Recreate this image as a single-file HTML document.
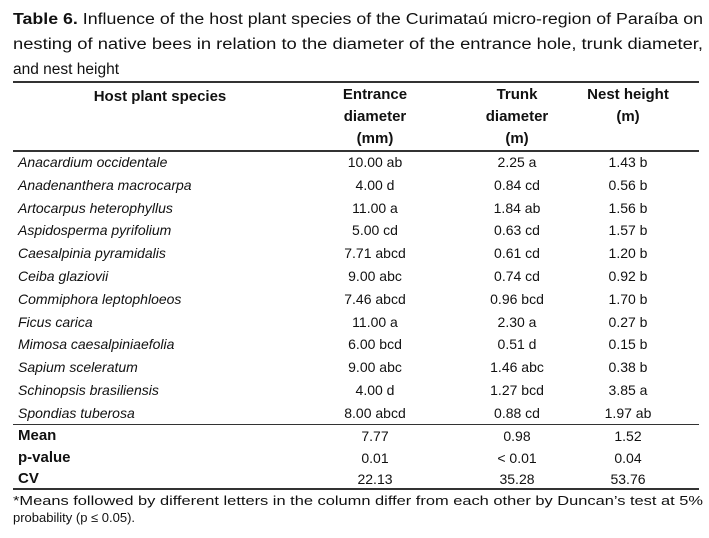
<!DOCTYPE html>
<html><head><meta charset="utf-8"><style>
body{margin:0;width:709px;height:538px;background:#fff;font-family:"Liberation Sans",sans-serif;color:#111;position:relative;overflow:hidden}
.t{position:absolute;white-space:nowrap;font-size:14px;line-height:16px}
.c{transform:translateX(-50%)}
.b{font-weight:bold}
.i{font-style:italic}
.rule{position:absolute;left:13px;width:686px;background:#333}
svg{position:absolute;left:0;top:0}
</style></head><body>
<svg width="709" height="538" style="font-family:'Liberation Sans',sans-serif;fill:#111">
<text x="13" y="24" font-size="15.5" textLength="690" lengthAdjust="spacingAndGlyphs"><tspan font-weight="bold">Table 6.</tspan> Influence of the host plant species of the Curimataú micro-region of Paraíba on</text>
<text x="13" y="49" font-size="15.5" textLength="690" lengthAdjust="spacingAndGlyphs">nesting of native bees in relation to the diameter of the entrance hole, trunk diameter,</text>
<text x="13" y="74" font-size="15.5">and nest height</text>
<text x="13" y="505" font-size="13" textLength="690" lengthAdjust="spacingAndGlyphs">*Means followed by different letters in the column differ from each other by Duncan’s test at 5%</text>
<text x="13" y="522" font-size="13">probability (p ≤ 0.05).</text>
</svg>
<div class="rule" style="top:81px;height:2px"></div>
<div class="rule" style="top:150px;height:2px"></div>
<div class="rule" style="top:424px;height:1px"></div>
<div class="rule" style="top:488px;height:2px"></div>
<div class="t b c" style="left:160px;top:86px;font-size:15px;line-height:22px">Host plant species</div>
<div class="t b c" style="left:375px;top:84px;text-align:center;line-height:22px;font-size:15px">Entrance<br>diameter<br>(mm)</div>
<div class="t b c" style="left:517px;top:84px;text-align:center;line-height:22px;font-size:15px">Trunk<br>diameter<br>(m)</div>
<div class="t b c" style="left:628px;top:84px;text-align:center;line-height:22px;font-size:15px">Nest height<br>(m)</div>
<div id="rows"></div>
<script>
const species=["Anacardium occidentale","Anadenanthera macrocarpa","Artocarpus heterophyllus","Aspidosperma pyrifolium","Caesalpinia pyramidalis","Ceiba glaziovii","Commiphora leptophloeos","Ficus carica","Mimosa caesalpiniaefolia","Sapium sceleratum","Schinopsis brasiliensis","Spondias tuberosa","Mean","p-value","CV"];
const entrance=["10.00 ab","4.00 d","11.00 a","5.00 cd","7.71 abcd","9.00 abc","7.46 abcd","11.00 a","6.00 bcd","9.00 abc","4.00 d","8.00 abcd","7.77","0.01","22.13"];
const trunk=["2.25 a","0.84 cd","1.84 ab","0.63 cd","0.61 cd","0.74 cd","0.96 bcd","2.30 a","0.51 d","1.46 abc","1.27 bcd","0.88 cd","0.98","< 0.01","35.28"];
const nest=["1.43 b","0.56 b","1.56 b","1.57 b","1.20 b","0.92 b","1.70 b","0.27 b","0.15 b","0.38 b","3.85 a","1.97 ab","1.52","0.04","53.76"];
const host=document.getElementById('rows');
species.forEach((s,i)=>{
  const y=i<12?154+i*22.8:428+(i-12)*21.5;
  const sum=i>=12;
  const a=document.createElement('div');
  a.className='t '+(sum?'b':'i');
  a.style.cssText='left:18px;top:'+y+'px;'+(sum?'font-size:15px':'');
  a.textContent=s;
  
  
  host.appendChild(a);
  [[entrance,375],[trunk,517],[nest,628]].forEach(([arr,x])=>{
    const d=document.createElement('div');
    d.className='t c';
    d.style.cssText='left:'+x+'px;top:'+y+'px';
    d.textContent=arr[i];
    
    
    host.appendChild(d);
  });
});
</script>
</body></html>
